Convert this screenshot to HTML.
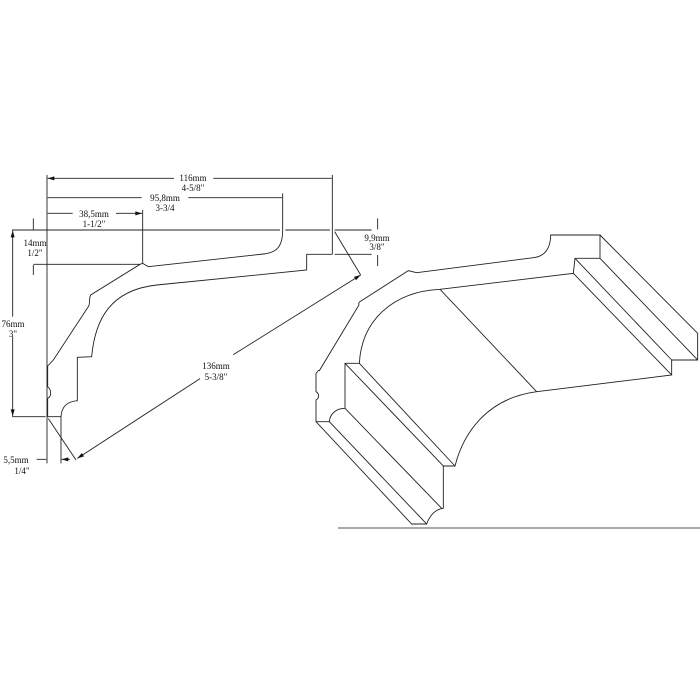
<!DOCTYPE html>
<html><head><style>body{margin:0;background:#fff}svg{display:block}</style></head><body>
<svg width="700" height="700" viewBox="0 0 700 700" xmlns="http://www.w3.org/2000/svg" font-family="Liberation Serif, serif" fill="none" stroke="#222">
<defs><marker id="a" viewBox="0 0 10 6" refX="10" refY="3" markerWidth="27" markerHeight="12" orient="auto-start-reverse" markerUnits="userSpaceOnUse"><path d="M0,0 L10,3 L0,6 Z" fill="#111" stroke="none"/></marker></defs>
<g transform="translate(0,160) scale(0.33333)" stroke-width="2.7">
<path d="M141,45 L141,910 M36,210 L840,210 M856,210 L990,210 M1004,210 L1115,210 M848,100 L848,210 M997,45 L997,283 M1004,283 L1115,283 M428,150 L428,310 M100,313 L420,313 M36,770 L137,770 M183,770 L183,910 M145,776 L228,900 M1004,215 L1082,345"/>
<path d="M848,210 C848,260 830,278 790,282 L445,320 L428,310 L420,313 L272,405 C265,420 272,430 265,440 L160,600 L143,618 L143,680 C155,690 155,710 143,715 L143,770 L183,770 C185,740 200,725 232,722 L232,592 L275,590 C285,480 330,390 470,375 L920,330 L920,283 L997,283"/>
<g marker-start="url(#a)" marker-end="url(#a)">
<path d="M143,55 L522,55 M640,55 L995,55 M143,113 L425,113 M565,113 L846,113 M143,160 L218,160 M348,160 L426,160"/>
<path d="M38,212 L38,470 M38,530 L38,768"/>
<path d="M232,895 L600,656 M700,584 L1082,345"/>
</g>
<g marker-end="url(#a)"><path d="M100,175 L100,208 M100,345 L100,315 M1133,175 L1133,208 M1133,318 L1133,285 M110,898 L139,898 M210,898 L185,898"/></g>
</g>
<g font-size="9" fill="#111" stroke="none" text-anchor="middle">
<text x="193" y="181">116mm</text><text x="193" y="191">4-5/8"</text>
<text x="165" y="201">95,8mm</text><text x="165" y="211">3-3/4</text>
<text x="94" y="217">38,5mm</text><text x="94" y="227">1-1/2"</text>
<text x="35" y="246">14mm</text><text x="35" y="256">1/2"</text>
<text x="377" y="241">9,9mm</text><text x="377" y="250">3/8"</text>
<text x="13" y="327">76mm</text><text x="13" y="337">3"</text>
<text x="216" y="369">136mm</text><text x="216" y="380">5-3/8"</text>
<text x="16" y="463">5,5mm</text><text x="22" y="474">1/4"</text>
</g>
<g transform="translate(300,220) scale(0.33333)" stroke-width="2.7">
<path d="M752,45 L900,45 L900,115 L825,115 L820,160 L420,208 C280,215 185,300 178,430 L135,430 L135,565 C110,565 90,580 88,605 L48,605 L48,540 C58,535 58,520 48,515 L48,460 C55,455 52,450 58,452 L175,258 C180,252 172,250 180,245 L325,152 L350,158 L700,113 C730,110 752,90 752,45 Z"/>
<path d="M900,45 L1193,340 L1193,420 L1115,420 L1115,465 L710,515 C560,535 490,640 465,738 L430,738 L430,865 C405,868 390,885 380,912 L335,912 L48,605"/>
<path d="M900,115 L1193,420 M825,115 L1115,420 M820,160 L1115,465 M420,208 L710,515 M178,430 L465,738 M135,430 L430,738 M135,565 L425,865 M88,605 L380,912"/>
</g>
<path d="M338,528 L700,528" stroke="#555" stroke-width="1"/>
</svg>
</body></html>
